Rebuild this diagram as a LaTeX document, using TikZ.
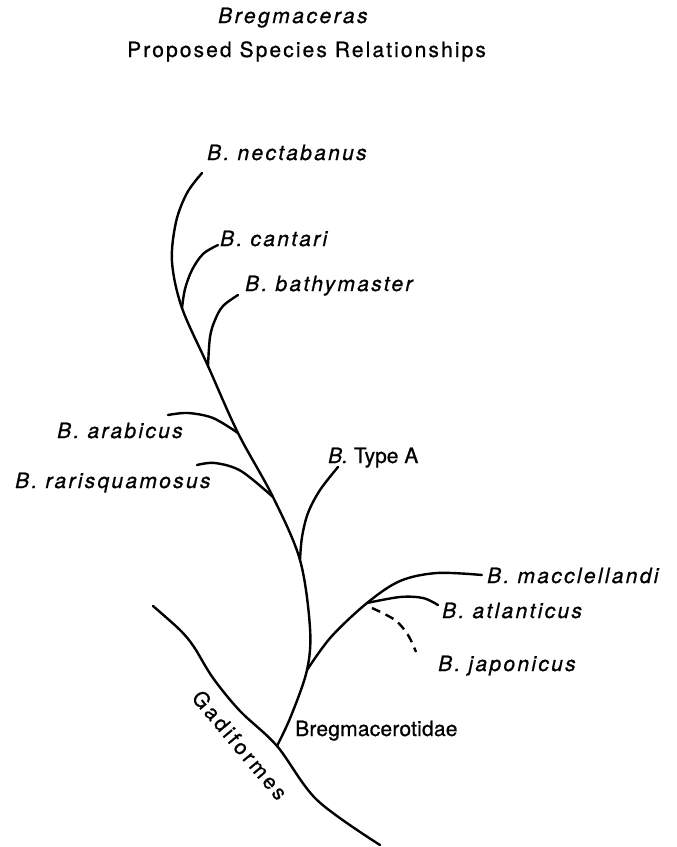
\documentclass[tikz,border=0pt]{standalone}
\usepackage{fontspec}
\setmainfont{TeX Gyre Heros}[FakeBold=0.8]
\tikzset{
  br/.style={line width=2.4pt, line cap=round, line join=round},
  lab/.style={inner sep=0pt, anchor=base west, font=\fontsize{21}{25}\selectfont\itshape\addfontfeature{LetterSpace=11}},
  labup/.style={inner sep=0pt, anchor=base west, font=\fontsize{21}{25}\selectfont},
  labfam/.style={inner sep=0pt, anchor=base west, font=\fontsize{21}{25}\selectfont\addfontfeature{LetterSpace=1}},
  ttl/.style={inner sep=0pt, anchor=base west, font=\fontsize{21}{25}\selectfont\addfontfeature{LetterSpace=10}},
  ttlit/.style={inner sep=0pt, anchor=base west, font=\fontsize{21}{25}\selectfont\itshape\addfontfeature{LetterSpace=12}},
  gadlab/.style={inner sep=0pt, anchor=center, font=\fontsize{21}{25}\selectfont\addfontfeature{LetterSpace=14}},
}
\begin{document}
\begin{tikzpicture}[x=1pt,y=-1pt]
\useasboundingbox (0,0) rectangle (677,847);
% junctions and branch ends
\coordinate (g) at (277,746);
\coordinate (m) at (307,670);
\coordinate (t) at (300,560);
\coordinate (r) at (273,497);
\coordinate (a) at (238,433);
\coordinate (b) at (208,366);
\coordinate (c) at (182,308);
\coordinate (nE) at (202,173);
\coordinate (cE) at (218,245);
\coordinate (bE) at (238,295);
\coordinate (aE) at (168,415);
\coordinate (rE) at (197,465);
\coordinate (tE) at (338,467);
\coordinate (at) at (367,603);
\coordinate (mE) at (482,575);
\coordinate (atE) at (438,605);
\coordinate (jS) at (372,608);
\coordinate (jE) at (416,652);
\coordinate (gS) at (153,606);
\coordinate (gE) at (380,845);
% order line
\draw[br] plot[smooth, tension=0.55] coordinates {(gS) (180,630) (194,647) (213,678) (240,711) (g) (317,800) (gE)};
% trunk
\draw[br] plot[smooth, tension=0.55] coordinates {(g) (291,716) (m) (310,628) (t) (r) (a) (b) (c) (172,262) (176,222) (187,193) (nE)};
% branches
\draw[br] plot[smooth, tension=0.55] coordinates {(c) (185,289) (192,270) (203,254) (cE)};
\draw[br] plot[smooth, tension=0.55] coordinates {(b) (210,337) (215,320) (223,306) (bE)};
\draw[br] plot[smooth, tension=0.55] coordinates {(a) (213,418) (188,413) (aE)};
\draw[br] plot[smooth, tension=0.55] coordinates {(r) (241,471) (215,463) (rE)};
\draw[br] plot[smooth, tension=0.55] coordinates {(t) (302,537) (308,513) (320,490) (tE)};
\draw[br] plot[smooth, tension=0.55] coordinates {(m) (331,637) (at) (400,581) (437,573) (mE)};
\draw[br] plot[smooth, tension=0.55] coordinates {(at) (400,597) (423,598) (atE)};
\draw[br, line cap=butt, dash pattern=on 9pt off 6pt] plot[smooth, tension=0.55] coordinates {(jS) (395,620) (408,635) (jE)};
% labels
\node[ttlit] (t1) at (218,23) {Bregmaceras};
\node[ttl] (t2) at (127,57) {Proposed Species Relationships};
\node[lab] (nec) at (207,160) {B. nectabanus};
\node[lab] (can) at (220,246) {B. cantari};
\node[lab] (bat) at (245,291) {B. bathymaster};
\node[lab] (ara) at (57,438) {B. arabicus};
\node[lab] (rar) at (15,488) {B. rarisquamosus};
\node[labup] (typ) at (328,463) {\textit{B.} Type A};
\node[lab] (mac) at (487,583) {B. macclellandi};
\node[lab] (atl) at (442,618) {B. atlanticus};
\node[lab] (jap) at (438,671) {B. japonicus};
\node[labfam] (bre) at (295,736) {Bregmacerotidae};
\node[gadlab, rotate=-50] (gad) at (240,745) {Gadiformes};
\end{tikzpicture}
\end{document}
